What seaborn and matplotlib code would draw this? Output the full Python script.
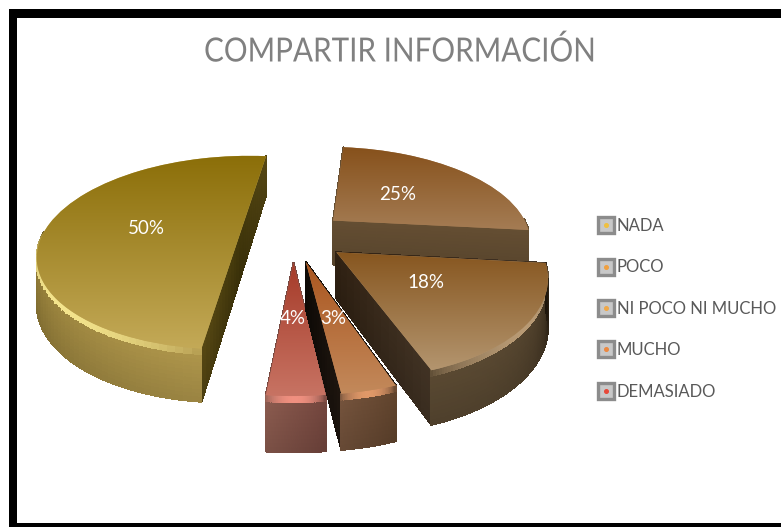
import numpy as np
import matplotlib
matplotlib.use("Agg")
import matplotlib.pyplot as plt
from matplotlib.transforms import Transform, Affine2D
from matplotlib.collections import PolyCollection
from matplotlib.lines import Line2D
from matplotlib.legend_handler import HandlerTuple
from matplotlib.patches import Rectangle
from matplotlib.patheffects import AbstractPathEffect
import seaborn as sns

# data
categories = ["NADA", "POCO", "NI POCO NI MUCHO", "MUCHO", "DEMASIADO"]
values = [50, 25, 17.95, 3.45, 3.6]
title = "COMPARTIR INFORMACIÓN"

# styles
top_far = ["#8b6e08", "#86501a", "#86551e", "#aa551e", "#a53a28"]
top_near = ["#c4aa58", "#a57d55", "#b49670", "#c38a5c", "#c87464"]
rim = ["#f4e48c", None, "#b89a74", "#e09868", "#f09080"]
arc_a = ["#5a4a14", "#5f4a30", "#564630", "#70503a", "#86584c"]
arc_b = ["#a89048", "#5f4a30", "#20170c", "#5e422c", "#70443c"]
arc_pow = [0.35, 1.0, 3.0, 1.0, 1.0]
rad_a = ["#3e340a", "#5f4a30", "#2e2012", "#0e0a06", "#70443c"]
rad_b = ["#524412", "#5f4a30", "#3e3022", "#1c140e", "#70443c"]
label_xy = [(146, 228), (398, 195), (426, 283), (333, 319), (293, 319)]
draw_order = [1, 2, 0, 4, 3]
leg_dot = ["#f0c040", "#f0a040", "#f0a848", "#ec8840", "#e84838"]

sns.set_theme(style="white")
plt.rcParams["font.family"] = ["Lato", "DejaVu Sans"]

W, H = 781, 527
fig = plt.figure(figsize=(W / 100, H / 100), dpi=100, facecolor="white")
ax = fig.add_axes([0, 0, 1, 1])

Cx, Cy, Rx, Ry, K, D = 293.0, 236.0, 198.0, 94.0, 0.20, 45.0


def project(X, Y, z=0.0):
    w = 1 + K * Y
    return Cx + Rx * X / w, Cy - Ry * Y / w + D * z / w ** 0.77


class Perspective(Transform):
    input_dims = 2
    output_dims = 2
    has_inverse = False
    is_separable = False

    def transform_non_affine(self, values):
        v = np.asarray(values, dtype=float)
        x, y = project(v[:, 0], v[:, 1])
        return np.column_stack([x, y])


class Condense(AbstractPathEffect):
    """Squeeze a text horizontally about a display x position."""

    def __init__(self, sx, x0):
        super().__init__()
        self.sx, self.x0 = sx, x0

    def draw_path(self, renderer, gc, tpath, affine, rgbFace=None):
        t = affine + Affine2D().translate(-self.x0, 0).scale(self.sx, 1).translate(self.x0, 0)
        renderer.draw_path(gc, tpath, t, rgbFace)


wedges, _ = ax.pie(values, startangle=264, counterclock=False,
                   explode=[0.27] * len(values), radius=1.0)
ax.set_aspect("auto")
persp = Perspective()


def rgb(c):
    return np.array(matplotlib.colors.to_rgb(c))


def wall(XY, c0, c1, rimcol=None, power=1.0, nz=14):
    polys, cols = [], []
    n = len(XY)
    zs = np.linspace(0, 1, nz + 1)
    for i in range(n - 1):
        t = (i / max(n - 2, 1)) ** power
        base = rgb(c0) * (1 - t) + rgb(c1) * t
        env = np.sin(np.pi * (i + 0.5) / (n - 1)) ** 0.6
        for j in range(nz):
            q = [project(XY[a, 0], XY[a, 1], zs[b])
                 for (a, b) in ((i, j), (i + 1, j), (i + 1, j + 1), (i, j + 1))]
            polys.append(q)
            f = zs[j]
            c = base * (1.05 - 0.14 * f)
            if rimcol is not None and f < 0.08:
                c = rgb(rimcol) * env + c * (1 - env)
            cols.append(np.clip(c, 0, 1))
    return polys, cols, XY[:, 1].mean()


z = 2
for i in draw_order:
    wd = wedges[i]
    cx, cy = wd.center
    th = np.radians(np.linspace(wd.theta1, wd.theta2, 90))
    arc = np.column_stack([cx + np.cos(th), cy + np.sin(th)])
    front = np.sin(th) < 0.02
    ss = np.linspace(0, 1, 14)
    r1 = np.column_stack([cx + ss * np.cos(th[0]), cy + ss * np.sin(th[0])])
    r2 = np.column_stack([cx + ss * np.cos(th[-1]), cy + ss * np.sin(th[-1])])
    walls = [wall(r1, rad_a[i], rad_b[i]), wall(r2, rad_a[i], rad_b[i])]
    if front.sum() > 1:
        walls.append(wall(arc[front], arc_a[i], arc_b[i], rim[i], arc_pow[i]))
    walls.sort(key=lambda w: -w[2])
    for p, c, _m in walls:
        ax.add_collection(PolyCollection(p, facecolors=c, edgecolors=c, linewidths=0.8,
                                         antialiaseds=False, zorder=z))
        z += 1
    wd.set_transform(persp + ax.transData)
    wd.set_facecolor(top_near[i])
    wd.set_edgecolor("none")
    wd.set_zorder(z)
    z += 1
    px, py = project(np.r_[arc[:, 0], cx], np.r_[arc[:, 1], cy])
    ramp = np.linspace(0, 1, 128)[:, None, None]
    img = rgb(top_far[i])[None, None, :] * (1 - ramp) + rgb(top_near[i])[None, None, :] * ramp
    im = ax.imshow(img, extent=(px.min() - 2, px.max() + 2, py.max() + 2, py.min() - 2),
                   aspect="auto", interpolation="bilinear", zorder=z)
    im.set_clip_path(wd)
    z += 1
    ax.text(*label_xy[i], f"{values[i]:.0f}%", color="white", fontsize=13.5,
            ha="center", va="center", zorder=200)

ax.set_xlim(0, W)
ax.set_ylim(H, 0)

# frame on left, top and bottom
for x, y, w, h in [(9, 9, 8, H - 9), (9, 9, W - 9, 9), (9, 523, W - 9, 4)]:
    ax.add_patch(Rectangle((x, y), w, h, facecolor="black", edgecolor="none", zorder=300))

ax.text(400, 52, title, color="#808080", fontsize=24, ha="center", va="center", zorder=200,
        path_effects=[Condense(0.89, 400)])

handles = [(Line2D([], [], ls="", marker="s", ms=11.5, mfc="#c8c8c8", mec="#8c8c8c", mew=2.4),
            Line2D([], [], ls="", marker="o", ms=2.6, mfc=c, mec=c))
           for c in leg_dot]
leg = ax.legend(handles, categories, loc="upper left", bbox_to_anchor=(594 / W, 1 - 218 / H),
                bbox_transform=ax.transAxes, frameon=False, fontsize=12.0,
                labelspacing=1.525, handlelength=1.38, handletextpad=0.0, borderpad=0, borderaxespad=0,
                handler_map={tuple: HandlerTuple(ndivide=1)}, labelcolor="#595959")
leg.set_zorder(250)

fig.savefig("out.png", dpi=100, facecolor="white")
